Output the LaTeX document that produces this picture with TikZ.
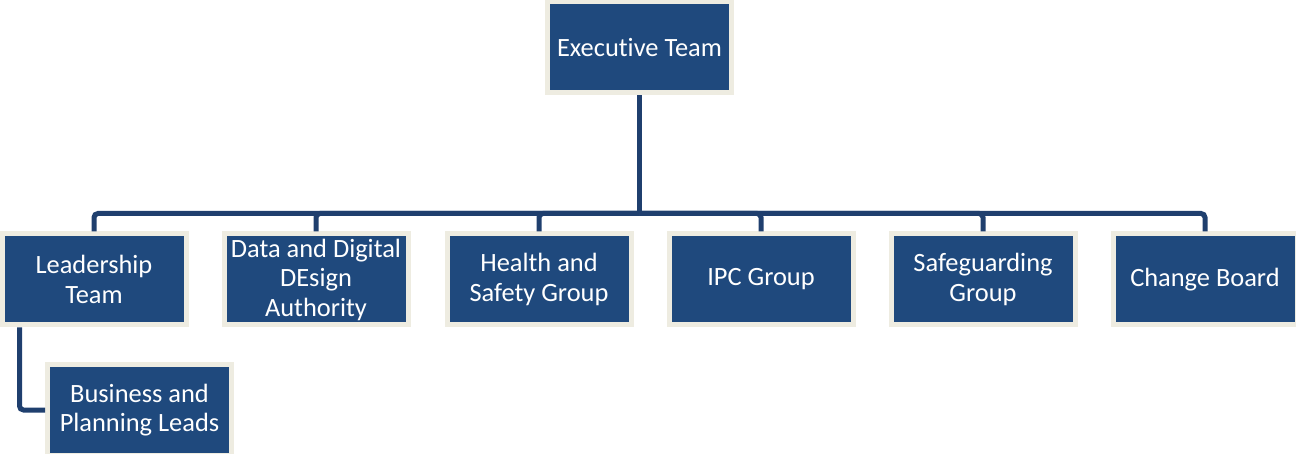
\documentclass[tikz,border=0pt]{standalone}
\usepackage{fontspec}
\setmainfont{Carlito}[Ligatures=NoCommon]
\usepackage{tikz}
\usetikzlibrary{calc}
\definecolor{boxBlue}{HTML}{1F497D}
\definecolor{boxEdge}{HTML}{EEECE1}
\definecolor{linkBlue}{HTML}{1F3F6E}
\tikzset{
	teamBox/.style={draw=boxEdge, fill=boxBlue, text=white, line width=5pt, minimum width=184pt, minimum height=91pt, inner sep=0pt, align=center, font=\fontsize{26.4}{29.5}\selectfont},
	link/.style={draw=linkBlue, line width=5pt, rounded corners=4pt}
}

\begin{document}
\begin{tikzpicture}[x=1pt, y=-1pt]
	\useasboundingbox (0,0) rectangle (1296,454);
	\node[teamBox] (exec) at (639.5,47.5) {Executive Team};
	\coordinate (bus) at (639.5,213.5);
	\draw[link] (exec.south) -- (bus);
	\foreach \xCoord/\boxName/\boxText in {94/lead/{Leadership\\Team}, 316/data/{Data and Digital\\DEsign\\Authority}, 539/health/{Health and\\Safety Group}, 761/ipc/{IPC Group}, 983/safe/{Safeguarding\\Group}, 1205/change/{Change Board}}
	{
		\node[teamBox] (\boxName) at (\xCoord,279.5) {\boxText};
		\draw[link] (bus) -| (\boxName.north);
	}
	\node[teamBox] (biz) at (139.5,410) {Business and\\Planning Leads};
	\coordinate (leadDrop) at ($(lead.south west)+(20,0)$);
	\draw[link] (leadDrop) |- (biz.west);
\end{tikzpicture}
\end{document}
